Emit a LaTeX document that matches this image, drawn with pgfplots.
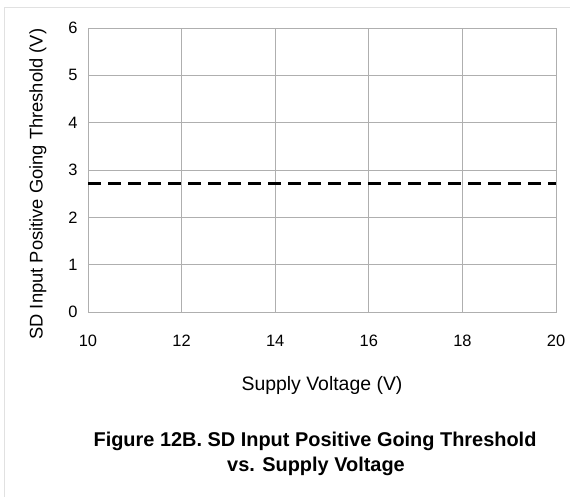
\documentclass[border=0pt]{standalone}
\usepackage{pgfplots}
\pgfplotsset{compat=1.18}
\usepackage{fontspec}
\setmainfont{Liberation Sans}
\definecolor{gridc}{RGB}{175,175,175}
\definecolor{framec}{RGB}{225,225,225}
\newcommand{\tickfont}{\fontsize{16.5}{19}\selectfont}
\begin{document}
\begin{tikzpicture}[x=1bp,y=1bp]
\path[use as bounding box] (0,0) rectangle (570,497);
\draw[framec, line width=0.8bp] (4,0) -- (4,490) -- (570,490);
\begin{axis}[
  at={(88bp,185bp)}, anchor=south west,
  scale only axis, width=468bp, height=284bp,
  xmin=10, xmax=20, ymin=0, ymax=6,
  xtick={10,12,...,20}, ytick={0,1,...,6},
  grid=major,
  major grid style={gridc, line width=0.8bp},
  axis line style={gridc, line width=0.8bp},
  tick style={draw=none},
  /pgf/number format/assume math mode=true,
  xticklabel={\tickfont\pgfmathprintnumber{\tick}},
  yticklabel={\tickfont\pgfmathprintnumber{\tick}},
  tick label style={black},
  xticklabel style={yshift=-20bp},
  yticklabel style={xshift=-7bp},
  xlabel={Supply Voltage (V)},
  ylabel={SD Input Positive Going Threshold (V)},
  xlabel style={font=\fontsize{19.5}{22}\selectfont, at={(axis description cs:0.5,0)}, anchor=center, yshift=-73bp},
  ylabel style={font=\fontsize{18.4}{22}\selectfont, at={(axis description cs:0,0.45)}, anchor=center, rotate=0, yshift=50bp},
]
\addplot[black, line width=2.6bp, dash pattern=on 13bp off 7bp] coordinates {(10,2.72) (20,2.72)};
\end{axis}
\node[font=\fontsize{20}{24}\selectfont\bfseries] at (315,56) {Figure 12B. SD Input Positive Going Threshold};
\node[font=\fontsize{20}{24}\selectfont\bfseries] at (316,31) {vs. Supply Voltage};
\end{tikzpicture}
\end{document}
